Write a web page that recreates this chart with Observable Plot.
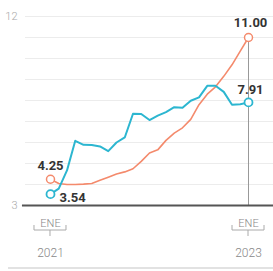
<!DOCTYPE html>
<html><head><meta charset="utf-8">
<script src="https://cdn.jsdelivr.net/npm/d3@7"></script>
<script src="https://cdn.jsdelivr.net/npm/@observablehq/plot@0.6"></script>
<style>
html,body{margin:0;padding:0;background:#fff;}
svg{display:block;}
</style>
</head><body>
<div id="chart"></div>
<script>
// month index 0 = ENE 2021 ... 24 = ENE 2023
const months = d3.range(0, 25);
const tasa = [4.25,4.05,4.0,4.0,4.02,4.05,4.2,4.35,4.5,4.6,4.75,5.1,5.5,5.65,6.1,6.45,6.7,7.1,7.8,8.3,8.65,9.15,9.7,10.35,11.0];
const inflacion = [3.54,3.8,4.67,6.08,5.89,5.88,5.81,5.59,6.0,6.24,7.37,7.36,7.07,7.28,7.45,7.68,7.65,7.99,8.15,8.7,8.7,8.41,7.8,7.82,7.91];
const xTicks = [0, 24];
const xTickMonth = ["ENE", "ENE"];
const xTickYear = ["2021", "2023"];
const yTicks = [3, 12];
const gridValues = [4,5,6,7,8,9,10,11,12];
const labels = [
  {i: 0, v: 4.25, text: "4.25", serie: "tasa"},
  {i: 0, v: 3.54, text: "3.54", serie: "inflacion"},
  {i: 24, v: 11.00, text: "11.00", serie: "tasa"},
  {i: 24, v: 7.91, text: "7.91", serie: "inflacion"}
];

const orange = "#f48a6c";
const blue = "#2cb6d0";
const tasaData = months.map((m, k) => ({i: m, v: tasa[k]}));
const inflData = months.map((m, k) => ({i: m, v: inflacion[k]}));
const ticks = xTicks.map((t, k) => ({i: t, mes: xTickMonth[k], anio: xTickYear[k]}));

const bracket = (index, {x, y}, values, dims) => {
  const g = d3.create("svg:g").attr("fill", "none").attr("stroke", "#aaa").attr("stroke-width", 1);
  const y0 = y(3);
  for (const t of ticks) {
    const cx = x(t.i);
    g.append("path").attr("d", `M${cx-16},${y0+20}V${y0+25}H${cx+16}V${y0+20}M${cx},${y0+25}V${y0+31}`);
  }
  g.append("line").attr("x1", 8).attr("x2", dims.width).attr("y1", dims.height - 3).attr("y2", dims.height - 3)
    .attr("stroke", "#e2e2e2").attr("stroke-width", 2);
  return g.node();
};

const chart = Plot.plot({
  width: 273,
  height: 271,
  marginLeft: 25,
  marginRight: 0,
  marginTop: 16,
  marginBottom: 66,
  style: {fontFamily: "Roboto, sans-serif", background: "#fff"},
  x: {domain: [-3.03, 27.03], axis: null},
  y: {domain: [3, 12], axis: null},
  marks: [
    Plot.ruleY(gridValues, {stroke: "#ececec", strokeWidth: 1}),
    Plot.text(yTicks, {x: -3.03, y: d => d, text: d => String(d), textAnchor: "end", dx: -8, fill: "#aaa", fontSize: 11, fontWeight: 300}),
    Plot.ruleX([24], {y1: 3, y2: 11, stroke: "#999", strokeWidth: 1}),
    Plot.line(tasaData, {x: "i", y: "v", stroke: orange, strokeWidth: 1.6}),
    Plot.line(inflData, {x: "i", y: "v", stroke: blue, strokeWidth: 2}),
    Plot.ruleY([3], {x1: -3.4, x2: 27.03, stroke: "#555", strokeWidth: 2}),
    Plot.dot([tasaData[0], tasaData[24]], {x: "i", y: "v", r: 4, stroke: orange, fill: "#fff", strokeWidth: 1.5}),
    Plot.dot([inflData[0], inflData[24]], {x: "i", y: "v", r: 4, stroke: blue, fill: "#fff", strokeWidth: 1.8}),
    Plot.text([labels[0]], {x: "i", y: "v", text: "text", dy: -13, fill: "#333", fontSize: 13, fontWeight: "bold"}),
    Plot.text([labels[1]], {x: "i", y: "v", text: "text", dx: 9, dy: 4, textAnchor: "start", fill: "#333", fontSize: 13, fontWeight: "bold"}),
    Plot.text([labels[2]], {x: "i", y: "v", text: "text", dx: 2, dy: -15, fill: "#333", fontSize: 13, fontWeight: "bold"}),
    Plot.text([labels[3]], {x: "i", y: "v", text: "text", dx: 2, dy: -13, fill: "#333", fontSize: 13, fontWeight: "bold"}),
    Plot.text(ticks, {x: "i", y: 3, text: "mes", dy: 18, fill: "#888", fontSize: 11, fontWeight: 300}),
    Plot.text(ticks, {x: "i", y: 3, text: "anio", dy: 48, fill: "#888", fontSize: 12, fontWeight: 300}),
    bracket
  ]
});
document.getElementById("chart").appendChild(chart);
</script>
</body></html>
